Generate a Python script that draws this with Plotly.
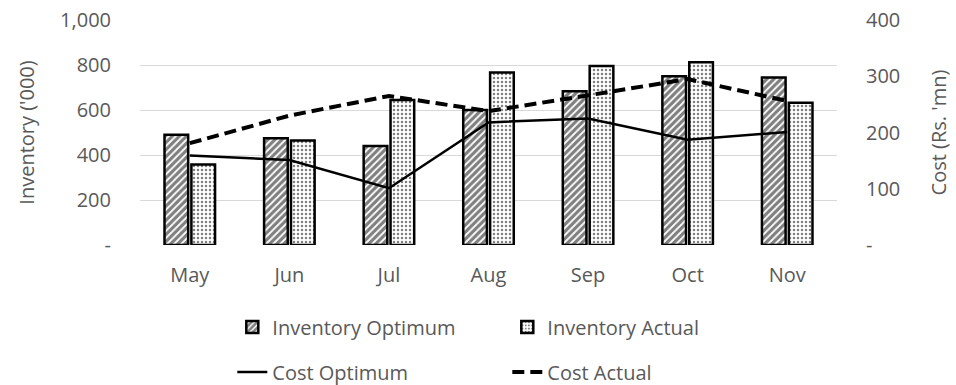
import plotly.graph_objects as go

months = ["May", "Jun", "Jul", "Aug", "Sep", "Oct", "Nov"]
inventory_optimum = [490, 475, 440, 600, 683, 750, 745]
inventory_actual = [358, 464, 644, 767, 796, 812, 632]
cost_optimum = [159, 151, 101, 218, 225, 187, 201]
cost_actual = [181, 230, 265, 238, 266, 295, 256]

left_ticks = [0, 200, 400, 600, 800, 1000]
left_text = ["-", "200", "400", "600", "800", "1,000"]
right_ticks = [0, 100, 200, 300, 400]
right_text = ["-", "100", "200", "300", "400"]

FONT = "Open Sans"
GREY = "#595959"
FS = 20

fig = go.Figure()
fig.add_trace(go.Bar(
    x=months, y=inventory_optimum, name="Inventory Optimum",
    marker=dict(color="white", line=dict(color="black", width=2.5),
                pattern=dict(shape="/", fgcolor="black", bgcolor="white",
                             size=5, solidity=0.65)),
))
fig.add_trace(go.Bar(
    x=months, y=inventory_actual, name="Inventory Actual",
    marker=dict(color="white", line=dict(color="black", width=2.5),
                pattern=dict(shape=".", fgcolor="black", bgcolor="white",
                             size=4, solidity=0.3)),
))
fig.add_trace(go.Scatter(
    x=months, y=cost_optimum, name="Cost Optimum", yaxis="y2",
    mode="lines", line=dict(color="black", width=2.5), legend="legend2",
))
fig.add_trace(go.Scatter(
    x=months, y=cost_actual, name="Cost Actual", yaxis="y2",
    mode="lines", line=dict(color="black", width=4, dash="12px,6px"),
    legend="legend2",
))

legend_common = dict(orientation="h", xref="container", xanchor="left",
                     x=0.243, yref="container", yanchor="middle",
                     entrywidth=230, traceorder="normal",
                     font=dict(family=FONT, size=FS, color=GREY),
                     bgcolor="rgba(0,0,0,0)")

fig.update_layout(
    width=956, height=385,
    margin=dict(l=140, r=119, t=20, b=140, autoexpand=False),
    paper_bgcolor="white", plot_bgcolor="white",
    font=dict(family=FONT, size=FS, color=GREY),
    barmode="group", bargap=0.46, bargroupgap=0.12,
    xaxis=dict(showgrid=False, showline=False, ticks="", automargin=False,
               ticklabelstandoff=16,
               tickfont=dict(size=FS, color=GREY)),
    yaxis=dict(range=[0, 1000], tickvals=left_ticks, ticktext=left_text,
               showgrid=True, gridcolor="#d9d9d9", gridwidth=1,
               zeroline=False, showline=False, ticks="", automargin=False,
               ticklabelstandoff=28,
               title=dict(text="Inventory ('000)", standoff=20,
                          font=dict(size=FS, color=GREY))),
    yaxis2=dict(range=[0, 400], tickvals=right_ticks, ticktext=right_text,
                overlaying="y", side="right", showgrid=False,
                zeroline=False, showline=False, automargin=False,
                ticklabelstandoff=28,
                title=dict(text="Cost (Rs. 'mn)", standoff=32,
                           font=dict(size=FS, color=GREY))),
    showlegend=True,
    legend=dict(legend_common, y=1 - 327 / 385),
    legend2=dict(legend_common, y=1 - 372 / 385),
)

fig.write_html("out.html")
